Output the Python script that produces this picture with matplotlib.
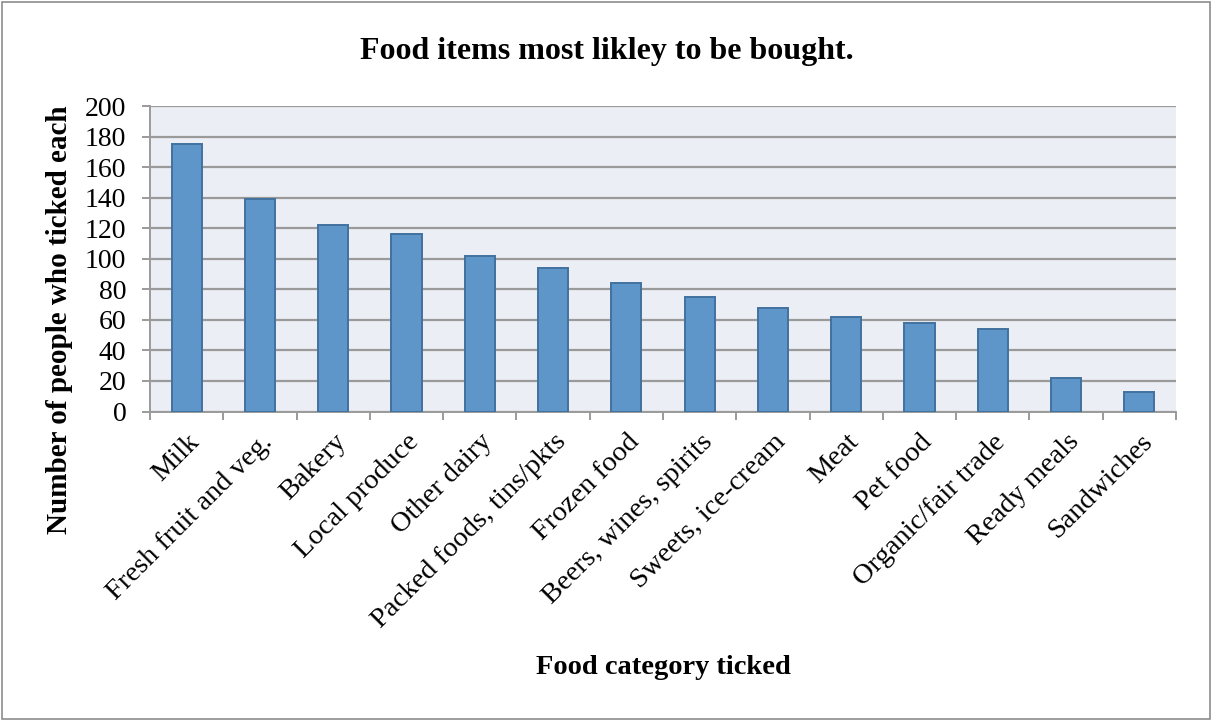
import matplotlib
matplotlib.use("Agg")
import matplotlib.pyplot as plt
from matplotlib.patches import Rectangle
import numpy as np

categories = ["Milk", "Fresh fruit and veg.", "Bakery", "Local produce", "Other dairy",
              "Packed foods, tins/pkts", "Frozen food", "Beers, wines, spirits",
              "Sweets, ice-cream", "Meat", "Pet food", "Organic/fair trade",
              "Ready meals", "Sandwiches"]
counts = [175, 139, 122, 116, 102, 94, 84, 75, 68, 62, 58, 54, 22, 13]
yticks = [0, 20, 40, 60, 80, 100, 120, 140, 160, 180, 200]

title = "Food items most likley to be bought."
xlabel = "Food category ticked"
ylabel = "Number of people who ticked each"

plt.rcParams['font.family'] = ['Liberation Serif', 'DejaVu Serif']

W, H = 1211, 720
fig = plt.figure(figsize=(W/100, H/100), dpi=100)
fig.patches.append(Rectangle((1.5/W, 1.5/H), 1 - 3/W, 1 - 3/H, transform=fig.transFigure,
                             fill=False, edgecolor='#8c8c8c', linewidth=1.2))

left, right, top, bottom = 150, 1176, 106, 411.5
ax = fig.add_axes([left/W, 1 - bottom/H, (right-left)/W, (bottom-top)/H])
ax.set_facecolor('#EBEEF4')

x = np.arange(len(categories))
ax.bar(x, counts, width=0.41, color='#5F96CA', edgecolor='#41719F', linewidth=1.4, zorder=3)

ax.set_xlim(-0.5, len(categories) - 0.5)
ax.set_ylim(0, 200)
ax.set_yticks(yticks)
ax.set_yticklabels([str(v) for v in yticks], fontsize=20)
ax.yaxis.grid(True, color='#9a9a9a', linewidth=1.6, zorder=0)
ax.set_axisbelow(True)

ax.set_xticks(np.arange(-0.5, len(categories), 1.0), minor=False)
ax.set_xticklabels([])
ax.set_xticks(x, minor=True)
ax.set_xticklabels(categories, minor=True, rotation=45, ha='right', va='top',
                   rotation_mode='anchor', fontsize=20.5)
ax.tick_params(axis='x', which='minor', length=0, pad=13)
ax.tick_params(axis='x', which='major', length=5.5, color='#9a9a9a', width=1.4)
ax.tick_params(axis='y', length=6, color='#9a9a9a', width=1.4, pad=11)

for s in ['top', 'right']:
    ax.spines[s].set_visible(False)
for s in ['left', 'bottom']:
    ax.spines[s].set_color('#9a9a9a')
    ax.spines[s].set_linewidth(1.4)

fig.text(607/W, 1 - 52/H, title, ha='center', va='center', fontsize=23, fontweight='bold')
fig.text(663/W, 1 - 668/H, xlabel, ha='center', va='center', fontsize=20.5, fontweight='bold')
fig.text(60/W, 1 - 320/H, ylabel, ha='center', va='center', rotation=90, fontsize=21,
         fontweight='bold')

fig.savefig("out.png", dpi=100)
